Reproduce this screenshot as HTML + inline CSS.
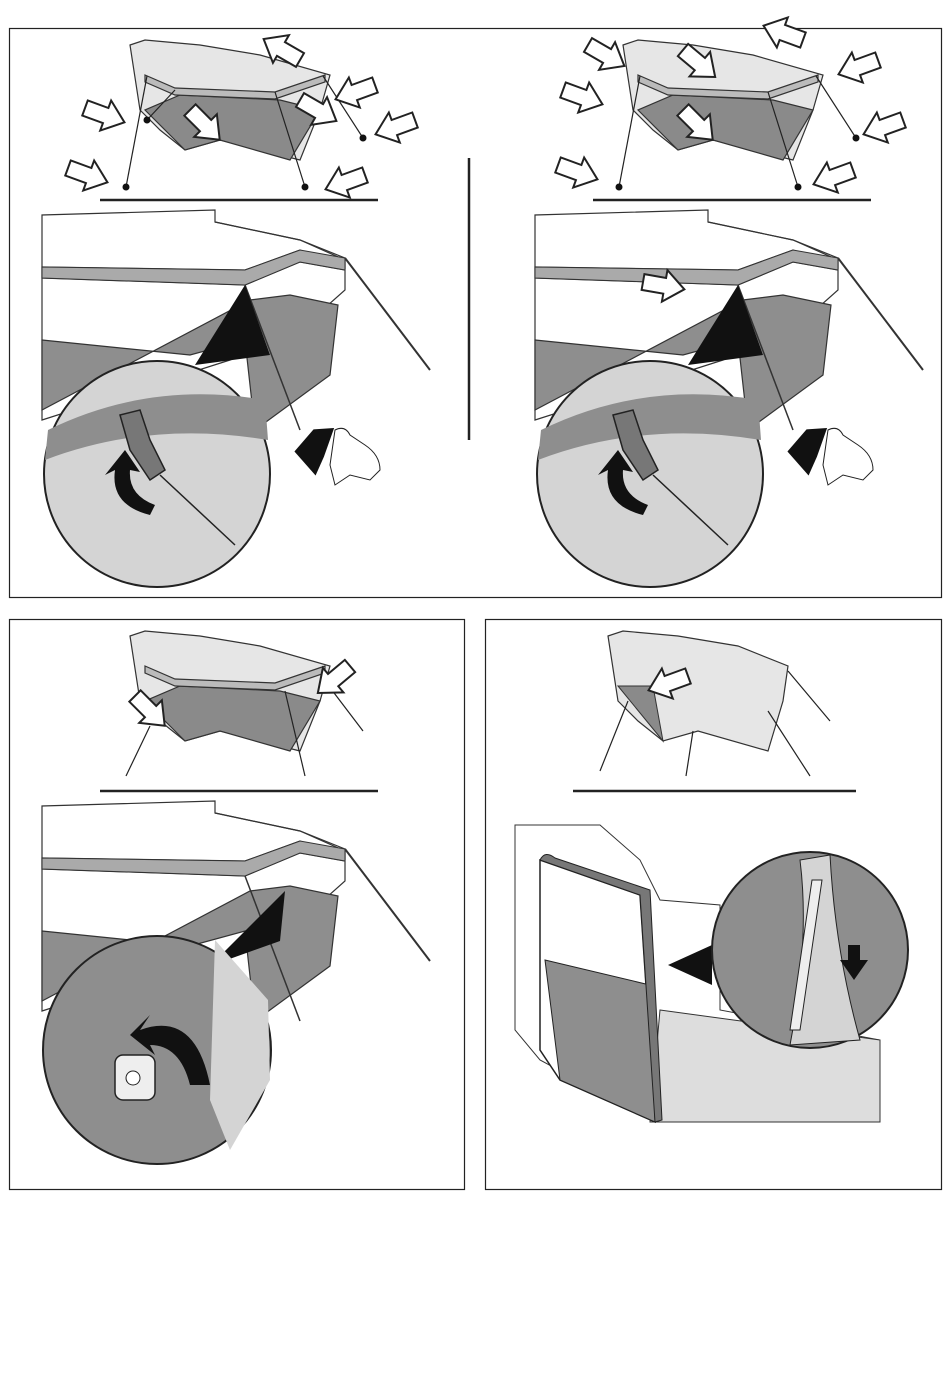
<!DOCTYPE html>
<html><head><meta charset="utf-8"><style>
html,body{margin:0;padding:0;background:#fff;}
svg{display:block}
</style></head><body>
<svg width="950" height="1392" viewBox="0 0 950 1392" xmlns="http://www.w3.org/2000/svg">
<defs>
<g id="tent">
  <!-- small overview tent -->
  <path d="M130,45 L145,40 L200,45 L260,55 L330,75 L320,110 L300,160 L220,140 L185,150 L160,130 L140,110 Z" fill="#e6e6e6" stroke="#333" stroke-width="1.2"/>
  <path d="M145,110 L185,150 L220,140 L290,160 L320,110 L280,100 L180,95 Z" fill="#8a8a8a" stroke="#333" stroke-width="1.2"/>
  <path d="M145,75 L175,88 L275,92 L325,75 L325,82 L275,99 L175,95 L145,82 Z" fill="#bbb" stroke="#333" stroke-width="1.2"/>
  <line x1="100" y1="200" x2="378" y2="200" stroke="#222" stroke-width="2.5"/>
</g>
<g id="arrow">
  <path d="M0,-8 L22,-8 L22,-16 L42,0 L22,16 L22,8 L0,8 Z" fill="#fff" stroke="#222" stroke-width="2"/>
</g>
<g id="scene">
  <!-- large scene -->
  <path d="M42,215 L42,420 L230,360 L300,330 L345,290 L345,260 L300,240 L215,222 L215,210 Z" fill="#fff" stroke="#333" stroke-width="1.2"/>
  <path d="M42,340 L190,355 L245,340 L255,430 L330,375 L338,305 L290,295 L250,300 L42,410 Z" fill="#8e8e8e" stroke="#333" stroke-width="1.2"/>
  <path d="M215,222 L300,240 L345,258 L345,268 L300,250 L245,270 L42,267 L42,278 L245,285 L300,262 L345,270" fill="none" stroke="#333" stroke-width="1.2"/>
  <path d="M42,267 L245,270 L300,250 L345,258 L345,270 L300,262 L245,285 L42,278 Z" fill="#aaa" stroke="#333"/>
  <line x1="345" y1="258" x2="430" y2="370" stroke="#333" stroke-width="2"/>
  <line x1="245" y1="285" x2="300" y2="430" stroke="#333" stroke-width="1.5"/>
</g>
</defs>

<!-- frames -->
<rect x="9.5" y="28.5" width="932" height="569" fill="none" stroke="#222" stroke-width="1.2"/>
<rect x="9.5" y="619.5" width="455" height="570" fill="none" stroke="#222" stroke-width="1.2"/>
<rect x="485.5" y="619.5" width="456" height="570" fill="none" stroke="#222" stroke-width="1.2"/>
<line x1="469" y1="158" x2="469" y2="440" stroke="#222" stroke-width="2.5"/>

<!-- Top-left -->
<use href="#tent"/>
<g stroke="#222" stroke-width="1.2">
<line x1="147" y1="76" x2="126" y2="187"/><line x1="175" y1="90" x2="147" y2="120"/>
<line x1="275" y1="92" x2="305" y2="187"/><line x1="323" y1="76" x2="363" y2="138"/>
</g>
<g fill="#111"><circle cx="126" cy="187" r="3.5"/><circle cx="305" cy="187" r="3.5"/><circle cx="363" cy="138" r="3.5"/><circle cx="147" cy="120" r="3.5"/></g>
<use href="#arrow" transform="translate(85,108) rotate(20)"/>
<use href="#arrow" transform="translate(68,168) rotate(20)"/>
<use href="#arrow" transform="translate(190,110) rotate(45)"/>
<use href="#arrow" transform="translate(300,60) rotate(-150)"/>
<use href="#arrow" transform="translate(375,85) rotate(160)"/>
<use href="#arrow" transform="translate(415,120) rotate(160)"/>
<use href="#arrow" transform="translate(365,175) rotate(160)"/>
<use href="#arrow" transform="translate(300,100) rotate(30)"/>
<use href="#scene"/>
<path d="M195,365 L245,285 L270,355 Z" fill="#111"/>
<circle cx="157" cy="474" r="113" fill="#d4d4d4" stroke="#222" stroke-width="2"/>
<path d="M48,430 Q150,380 265,400 L268,440 Q150,420 45,460 Z" fill="#8e8e8e"/>
<path d="M120,415 L140,410 L150,440 L165,470 L150,480 L130,450 Z" fill="#777" stroke="#222" stroke-width="1.5"/>
<line x1="160" y1="475" x2="235" y2="545" stroke="#222" stroke-width="1.5"/>
<path d="M150,515 Q110,505 115,470 L105,475 L125,450 L140,472 L130,470 Q128,495 155,505 Z" fill="#111"/>
<path d="M310,430 L330,425 L325,455 L320,475 L295,455 Z" fill="#111" transform="rotate(10 315 450)"/>
<path d="M335,430 q10,-5 15,5 l15,10 q15,10 15,25 l-10,10 l-20,-5 l-15,10 l-5,-20 Z" fill="#fff" stroke="#222"/>

<!-- Top-right -->
<g transform="translate(493,0)">
<use href="#tent"/>
<use href="#scene"/>
<path d="M195,365 L245,285 L270,355 Z" fill="#111"/>
<circle cx="157" cy="474" r="113" fill="#d4d4d4" stroke="#222" stroke-width="2"/>
<path d="M48,430 Q150,380 265,400 L268,440 Q150,420 45,460 Z" fill="#8e8e8e"/>
<path d="M120,415 L140,410 L150,440 L165,470 L150,480 L130,450 Z" fill="#777" stroke="#222" stroke-width="1.5"/>
<line x1="160" y1="475" x2="235" y2="545" stroke="#222" stroke-width="1.5"/>
<path d="M150,515 Q110,505 115,470 L105,475 L125,450 L140,472 L130,470 Q128,495 155,505 Z" fill="#111"/>
<path d="M310,430 L330,425 L325,455 L320,475 L295,455 Z" fill="#111" transform="rotate(10 315 450)"/>
<path d="M335,430 q10,-5 15,5 l15,10 q15,10 15,25 l-10,10 l-20,-5 l-15,10 l-5,-20 Z" fill="#fff" stroke="#222"/>
<use href="#arrow" transform="translate(150,282) rotate(10)"/>
<g stroke="#222" stroke-width="1.2">
<line x1="147" y1="76" x2="126" y2="187"/><line x1="275" y1="92" x2="305" y2="187"/><line x1="323" y1="76" x2="363" y2="138"/>
</g>
<g fill="#111"><circle cx="126" cy="187" r="3.5"/><circle cx="305" cy="187" r="3.5"/><circle cx="363" cy="138" r="3.5"/></g>
<use href="#arrow" transform="translate(95,45) rotate(30)"/>
<use href="#arrow" transform="translate(70,90) rotate(20)"/>
<use href="#arrow" transform="translate(65,165) rotate(20)"/>
<use href="#arrow" transform="translate(190,50) rotate(40)"/>
<use href="#arrow" transform="translate(310,40) rotate(-160)"/>
<use href="#arrow" transform="translate(385,60) rotate(160)"/>
<use href="#arrow" transform="translate(410,120) rotate(160)"/>
<use href="#arrow" transform="translate(360,170) rotate(160)"/>
<use href="#arrow" transform="translate(190,110) rotate(45)"/>
</g>

<!-- Bottom-left -->
<g transform="translate(0,591)">
<use href="#tent"/>
<use href="#scene"/>
<g stroke="#222" stroke-width="1.2"><line x1="150" y1="135" x2="126" y2="185"/><line x1="285" y1="100" x2="305" y2="185"/><line x1="325" y1="90" x2="363" y2="140"/></g>
<use href="#arrow" transform="translate(135,105) rotate(45)"/>
<use href="#arrow" transform="translate(350,75) rotate(140)"/>
<path d="M210,375 L285,300 L280,350 Z" fill="#111"/>
</g>
<circle cx="157" cy="1050" r="114" fill="#8e8e8e" stroke="#222" stroke-width="2"/>
<path d="M215,940 L268,1000 L270,1080 L230,1150 L210,1100 Z" fill="#d4d4d4"/>
<rect x="115" y="1055" width="40" height="45" rx="8" fill="#eee" stroke="#222" stroke-width="1.5"/>
<circle cx="133" cy="1078" r="7" fill="#fff" stroke="#222"/>
<path d="M140,1030 Q195,1010 210,1085 L190,1085 Q180,1045 150,1045 L155,1055 L130,1035 L150,1015 Z" fill="#111"/>

<!-- Bottom-right -->
<g transform="translate(478,591)">
<path d="M130,45 L145,40 L200,45 L260,55 L310,75 L305,110 L290,160 L220,140 L185,150 L160,130 L140,110 Z" fill="#e6e6e6" stroke="#333" stroke-width="1.2"/>
<path d="M140,95 L185,150 L175,95 Z" fill="#8a8a8a" stroke="#333"/>
<line x1="95" y1="200" x2="378" y2="200" stroke="#222" stroke-width="2.5"/>
<g stroke="#222" stroke-width="1.2"><line x1="150" y1="110" x2="122" y2="180"/><line x1="215" y1="140" x2="208" y2="185"/><line x1="290" y1="120" x2="332" y2="185"/><line x1="310" y1="80" x2="352" y2="130"/></g>
<use href="#arrow" transform="translate(210,85) rotate(160)"/>
</g>
<path d="M515,825 L600,825 L640,860 L660,900 L720,905 L720,1010 L880,1040 L880,1122 L655,1122 L540,1060 L515,1030 Z" fill="#fff" stroke="#333"/>
<path d="M660,1010 L880,1040 L880,1122 L650,1122 Z" fill="#ddd" stroke="#333"/>
<path d="M540,860 L640,895 L655,1122 L560,1080 L540,1050 Z" fill="#fff" stroke="#222" stroke-width="1.5"/>
<path d="M545,960 L650,985 L655,1122 L560,1080 Z" fill="#8e8e8e" stroke="#222"/>
<path d="M540,860 Q545,850 555,858 L650,890 L662,1120 L655,1122 L640,895 Z" fill="#777" stroke="#222"/>
<path d="M668,965 L712,945 L712,985 Z" fill="#111"/>
<circle cx="810" cy="950" r="98" fill="#8e8e8e" stroke="#222" stroke-width="2"/>
<path d="M800,860 Q810,940 790,1045 L860,1040 Q835,950 830,855 Z" fill="#d4d4d4" stroke="#222"/>
<path d="M812,880 L822,880 L800,1030 L790,1030 Z" fill="#eee" stroke="#222"/>
<path d="M848,945 L860,945 L860,960 L868,960 L854,980 L840,960 L848,960 Z" fill="#111"/>
</svg>
</body></html>
